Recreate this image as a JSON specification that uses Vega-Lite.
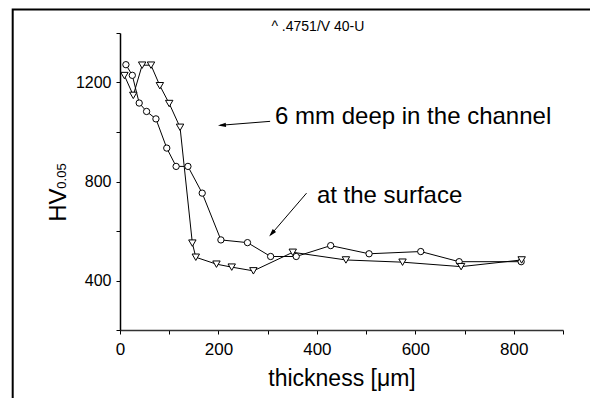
{
  "$schema": "https://vega.github.io/schema/vega-lite/v6.json",
  "width": 443,
  "height": 297,
  "autosize": {"type": "none"},
  "padding": {"left": 120, "top": 33, "right": 27, "bottom": 68},
  "background": "white",
  "config": {"view": {"stroke": null}, "font": "Liberation Sans"},
  "data": {"values": [{}]},
  "datasets": {
    "hv": [
      {"series": "at the surface", "thickness": 12, "hv": 1272},
      {"series": "at the surface", "thickness": 25, "hv": 1229},
      {"series": "at the surface", "thickness": 39, "hv": 1117},
      {"series": "at the surface", "thickness": 54, "hv": 1083},
      {"series": "at the surface", "thickness": 73, "hv": 1053},
      {"series": "at the surface", "thickness": 95, "hv": 935},
      {"series": "at the surface", "thickness": 114, "hv": 861},
      {"series": "at the surface", "thickness": 138, "hv": 861},
      {"series": "at the surface", "thickness": 167, "hv": 753},
      {"series": "at the surface", "thickness": 205, "hv": 564},
      {"series": "at the surface", "thickness": 259, "hv": 553},
      {"series": "at the surface", "thickness": 306, "hv": 497},
      {"series": "at the surface", "thickness": 358, "hv": 497},
      {"series": "at the surface", "thickness": 428, "hv": 541},
      {"series": "at the surface", "thickness": 506, "hv": 508},
      {"series": "at the surface", "thickness": 611, "hv": 517},
      {"series": "at the surface", "thickness": 689, "hv": 476},
      {"series": "at the surface", "thickness": 815, "hv": 476},
      {"series": "6 mm deep in the channel", "thickness": 9, "hv": 1228},
      {"series": "6 mm deep in the channel", "thickness": 27, "hv": 1148},
      {"series": "6 mm deep in the channel", "thickness": 45, "hv": 1270},
      {"series": "6 mm deep in the channel", "thickness": 63, "hv": 1270},
      {"series": "6 mm deep in the channel", "thickness": 81, "hv": 1187},
      {"series": "6 mm deep in the channel", "thickness": 100, "hv": 1115},
      {"series": "6 mm deep in the channel", "thickness": 122, "hv": 1019},
      {"series": "6 mm deep in the channel", "thickness": 147, "hv": 551},
      {"series": "6 mm deep in the channel", "thickness": 154, "hv": 494},
      {"series": "6 mm deep in the channel", "thickness": 196, "hv": 466},
      {"series": "6 mm deep in the channel", "thickness": 227, "hv": 454},
      {"series": "6 mm deep in the channel", "thickness": 271, "hv": 439},
      {"series": "6 mm deep in the channel", "thickness": 351, "hv": 514},
      {"series": "6 mm deep in the channel", "thickness": 459, "hv": 483},
      {"series": "6 mm deep in the channel", "thickness": 574, "hv": 474},
      {"series": "6 mm deep in the channel", "thickness": 693, "hv": 456},
      {"series": "6 mm deep in the channel", "thickness": 816, "hv": 483}
    ]
  },
  "layer": [
    {
      "data": {"name": "hv"},
      "mark": {"type": "line", "color": "black", "strokeWidth": 1},
      "encoding": {
        "x": {
          "field": "thickness", "type": "quantitative",
          "scale": {"domain": [0, 900], "nice": false, "zero": false},
          "axis": {
            "title": "thickness [μm]",
            "titleFontSize": 23, "titleFontWeight": "normal", "titleColor": "black", "titlePadding": 10,
            "values": [0, 100, 200, 300, 400, 500, 600, 700, 800, 900],
            "labelExpr": "datum.value % 200 === 0 ? datum.label : ''",
            "labelFontSize": 17, "labelColor": "black", "labelPadding": 7,
            "domainColor": "#333", "domainWidth": 1.5,
            "tickColor": "black", "tickSize": 4, "tickWidth": 1,
            "grid": false, "labelFlush": false, "labelOverlap": false
          }
        },
        "y": {
          "field": "hv", "type": "quantitative",
          "scale": {"domain": [200, 1400], "nice": false, "zero": false},
          "axis": {
            "title": null,
            "values": [200, 400, 600, 800, 1000, 1200, 1400],
            "labelExpr": "datum.value % 400 === 0 ? datum.label : ''",
            "labelFontSize": 16, "labelColor": "black", "labelPadding": 5,
            "domainColor": "black", "domainWidth": 1.5,
            "tickColor": "black", "tickSize": 4, "tickWidth": 1,
            "grid": false, "labelFlush": false, "labelOverlap": false,
            "format": "d"
          }
        },
        "detail": {"field": "series"}
      }
    },
    {
      "data": {"name": "hv"},
      "mark": {"type": "point", "filled": true, "fill": "white", "stroke": "black", "strokeWidth": 1, "opacity": 1},
      "encoding": {
        "x": {"field": "thickness", "type": "quantitative"},
        "y": {"field": "hv", "type": "quantitative"},
        "shape": {
          "field": "series", "type": "nominal",
          "scale": {"domain": ["6 mm deep in the channel", "at the surface"], "range": ["triangle-down", "circle"]},
          "legend": null
        },
        "size": {
          "field": "series", "type": "nominal",
          "scale": {"domain": ["6 mm deep in the channel", "at the surface"], "range": [55, 40]},
          "legend": null
        }
      }
    },
    {
      "mark": {"type": "rect", "fillOpacity": 0, "stroke": "black", "strokeWidth": 2, "clip": false},
      "encoding": {
        "x": {"datum": -218, "type": "quantitative"},
        "x2": {"datum": 965},
        "y": {"datum": 1495, "type": "quantitative"},
        "y2": {"datum": -100}
      }
    },
    {
      "mark": {"type": "rule", "color": "black", "strokeWidth": 1},
      "encoding": {
        "x": {"datum": 305, "type": "quantitative"},
        "y": {"datum": 1043, "type": "quantitative"},
        "x2": {"datum": 203},
        "y2": {"datum": 1027}
      }
    },
    {
      "mark": {"type": "rule", "color": "black", "strokeWidth": 1},
      "encoding": {
        "x": {"datum": 379, "type": "quantitative"},
        "y": {"datum": 753, "type": "quantitative"},
        "x2": {"datum": 306},
        "y2": {"datum": 584}
      }
    },
    {
      "mark": {"type": "point", "shape": "M0,0L-0.28,1L0.28,1Z", "filled": true, "color": "black", "size": 256, "angle": 265, "opacity": 1},
      "encoding": {
        "x": {"datum": 199, "type": "quantitative"},
        "y": {"datum": 1026, "type": "quantitative"}
      }
    },
    {
      "mark": {"type": "point", "shape": "M0,0L-0.28,1L0.28,1Z", "filled": true, "color": "black", "size": 256, "angle": 221, "opacity": 1},
      "encoding": {
        "x": {"datum": 303, "type": "quantitative"},
        "y": {"datum": 578, "type": "quantitative"}
      }
    },
    {
      "mark": {"type": "text", "text": "6 mm deep in the channel", "fontSize": 24, "align": "left", "baseline": "alphabetic", "color": "black"},
      "encoding": {
        "x": {"datum": 315, "type": "quantitative"},
        "y": {"datum": 1034, "type": "quantitative"}
      }
    },
    {
      "mark": {"type": "text", "text": "at the surface", "fontSize": 24, "align": "left", "baseline": "alphabetic", "color": "black"},
      "encoding": {
        "x": {"datum": 400, "type": "quantitative"},
        "y": {"datum": 713, "type": "quantitative"}
      }
    },
    {
      "mark": {"type": "text", "text": "^ .4751/V 40-U", "fontSize": 14, "align": "center", "baseline": "alphabetic", "color": "black"},
      "encoding": {
        "x": {"datum": 402, "type": "quantitative"},
        "y": {"datum": 1410, "type": "quantitative"}
      }
    },
    {
      "mark": {"type": "text", "text": "HV", "fontSize": 24, "angle": 270, "align": "left", "baseline": "alphabetic", "color": "black"},
      "encoding": {
        "x": {"datum": -110, "type": "quantitative"},
        "y": {"datum": 637, "type": "quantitative"}
      }
    },
    {
      "mark": {"type": "text", "text": "0.05", "fontSize": 13, "angle": 270, "align": "left", "baseline": "alphabetic", "color": "black"},
      "encoding": {
        "x": {"datum": -110, "type": "quantitative"},
        "y": {"datum": 771, "type": "quantitative"}
      }
    }
  ]
}
